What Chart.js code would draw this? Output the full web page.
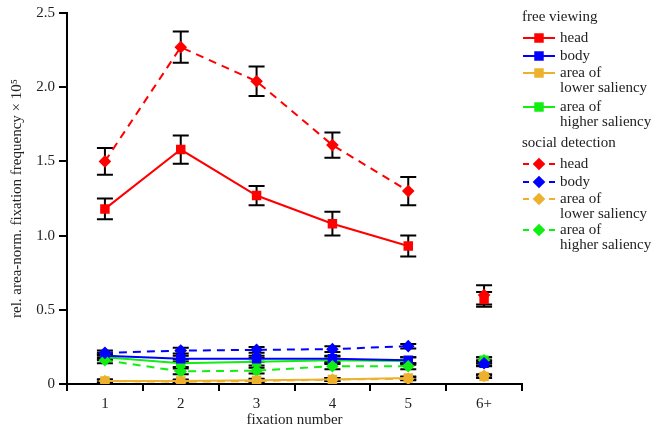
<!DOCTYPE html>
<html>
<head>
<meta charset="utf-8">
<script src="https://cdn.jsdelivr.net/npm/chart.js@4/dist/chart.umd.min.js"></script>
<style>
html,body{margin:0;padding:0;background:#fff;}
#wrap{position:relative;width:651px;height:429px;}
</style>
</head>
<body>
<div id="wrap"><canvas id="c" width="651" height="429"></canvas></div>
<script>
const categories = ['1', '2', '3', '4', '5', '6+'];
const yTicks = [0, 0.5, 1.0, 1.5, 2.0, 2.5];

// free viewing
const fvHead = [1.18, 1.58, 1.27, 1.08, 0.93, 0.57];
const fvHeadErr = [0.07, 0.095, 0.065, 0.08, 0.07, 0.05];
const fvBody = [0.19, 0.17, 0.17, 0.17, 0.16, 0.14];
const fvBodyErr = [0.02, 0.02, 0.02, 0.02, 0.02, 0.02];
const fvLow = [0.02, 0.02, 0.025, 0.03, 0.04, 0.05];
const fvLowErr = [0.01, 0.01, 0.01, 0.01, 0.01, 0.01];
const fvHigh = [0.18, 0.14, 0.15, 0.16, 0.155, 0.16];
const fvHighErr = [0.02, 0.025, 0.025, 0.025, 0.025, 0.02];

// social detection
const sdHead = [1.50, 2.27, 2.04, 1.61, 1.30, 0.60];
const sdHeadErr = [0.09, 0.105, 0.10, 0.085, 0.095, 0.065];
const sdBody = [0.21, 0.225, 0.23, 0.235, 0.255, 0.14];
const sdBodyErr = [0.015, 0.02, 0.02, 0.02, 0.015, 0.015];
const sdLow = [0.02, 0.015, 0.02, 0.03, 0.035, 0.055];
const sdLowErr = [0.01, 0.01, 0.01, 0.01, 0.01, 0.01];
const sdHigh = [0.16, 0.085, 0.09, 0.12, 0.12, 0.16];
const sdHighErr = [0.02, 0.02, 0.02, 0.02, 0.02, 0.02];

const seriesNames = ['head', 'body', 'area of\nlower saliency', 'area of\nhigher saliency'];
const colors = ['#ff0000', '#0000ff', '#edb12e', '#11ee11'];

const FONT = "'Liberation Serif', 'Times New Roman', serif";
const FS = 15;
const TXT = '#222';

function mk(label, data, errs, color, dashed, order) {
  return {
    label: label,
    data: data,
    errors: errs,
    borderColor: color,
    backgroundColor: color,
    pointBackgroundColor: color,
    pointBorderColor: color,
    pointBorderWidth: 0,
    borderWidth: 2,
    borderDash: dashed ? [8, 6] : [],
    pointStyle: dashed ? 'rectRot' : 'rect',
    pointRadius: dashed ? 6.3 : 6.7,
    pointHoverRadius: dashed ? 6.3 : 6.7,
    tension: 0,
    fill: false,
    order: order,
    segment: {
      borderColor: ctx => ctx.p1DataIndex === 5 ? 'rgba(0,0,0,0)' : undefined
    }
  };
}

const datasets = [
  mk('free viewing head', fvHead, fvHeadErr, colors[0], false, 1),
  mk('free viewing body', fvBody, fvBodyErr, colors[1], false, 1),
  mk('free viewing area of lower saliency', fvLow, fvLowErr, colors[2], false, 1),
  mk('free viewing area of higher saliency', fvHigh, fvHighErr, colors[3], false, 1),
  mk('social detection head', sdHead, sdHeadErr, colors[0], true, 0),
  mk('social detection body', sdBody, sdBodyErr, colors[1], true, 0),
  mk('social detection area of lower saliency', sdLow, sdLowErr, colors[2], true, 0),
  mk('social detection area of higher saliency', sdHigh, sdHighErr, colors[3], true, 0)
];

const errorBars = {
  id: 'errorBars',
  beforeDatasetsDraw(chart) {
    const ctx = chart.ctx;
    const y = chart.scales.y;
    ctx.save();
    ctx.strokeStyle = '#000';
    ctx.lineWidth = 2;
    chart.data.datasets.forEach((ds, di) => {
      const meta = chart.getDatasetMeta(di);
      meta.data.forEach((pt, i) => {
        const v = ds.data[i];
        const e = ds.errors[i];
        if (v == null || e == null) return;
        const x = pt.x;
        const yt = y.getPixelForValue(v + e);
        const yb = y.getPixelForValue(v - e);
        ctx.beginPath();
        ctx.moveTo(x, yt); ctx.lineTo(x, yb);
        ctx.moveTo(x - 8, yt); ctx.lineTo(x + 8, yt);
        ctx.moveTo(x - 8, yb); ctx.lineTo(x + 8, yb);
        ctx.stroke();
      });
    });
    ctx.restore();
  }
};

const customLegend = {
  id: 'customLegend',
  afterDraw(chart) {
    const ctx = chart.ctx;
    ctx.save();
    ctx.font = FS + 'px ' + FONT;
    ctx.fillStyle = TXT;
    ctx.textBaseline = 'middle';
    ctx.textAlign = 'left';
    const groups = [
      {title: 'free viewing', ty: 17, rows: [38, 56, 73, 107], dashed: false, start: 0},
      {title: 'social detection', ty: 143, rows: [164, 182, 199, 230], dashed: true, start: 4}
    ];
    const x0 = 523, x1 = 555, xm = 539, tx = 560;
    groups.forEach(g => {
      ctx.fillStyle = TXT;
      ctx.fillText(g.title, 522, g.ty);
      g.rows.forEach((ry, k) => {
        const ds = chart.data.datasets[g.start + k];
        const col = ds.borderColor;
        ctx.strokeStyle = col;
        ctx.fillStyle = col;
        ctx.lineWidth = 2;
        ctx.beginPath();
        if (g.dashed) {
          ctx.moveTo(x0, ry); ctx.lineTo(x0 + 6, ry);
          ctx.moveTo(x1 - 6, ry); ctx.lineTo(x1, ry);
        } else {
          ctx.moveTo(x0, ry); ctx.lineTo(x1, ry);
        }
        ctx.stroke();
        Chart.helpers.drawPoint(ctx, {pointStyle: ds.pointStyle, radius: ds.pointRadius, borderWidth: 0}, xm, ry);
        ctx.fillStyle = TXT;
        const lines = seriesNames[k].split('\n');
        lines.forEach((ln, j) => ctx.fillText(ln, tx, ry + j * 15));
      });
    });
    ctx.restore();
  }
};

new Chart(document.getElementById('c'), {
  type: 'line',
  data: { labels: categories, datasets: datasets },
  plugins: [errorBars, customLegend],
  options: {
    responsive: false,
    animation: false,
    devicePixelRatio: 1,
    layout: { padding: { top: 8, right: 129, bottom: 0, left: 0 } },
    plugins: { legend: { display: false }, tooltip: { enabled: false } },
    scales: {
      x: {
        type: 'category',
        offset: true,
        border: { display: true, color: '#000', width: 2 },
        grid: { offset: true, drawOnChartArea: false, drawTicks: true, tickLength: 7, color: '#000', lineWidth: 2 },
        ticks: { color: TXT, font: { family: FONT, size: FS }, padding: 4 },
        title: { display: true, text: 'fixation number', color: TXT, font: { family: FONT, size: FS }, padding: { top: 0, bottom: 0 } },
        afterFit(scale) { scale.height = 45; }
      },
      y: {
        min: 0,
        max: 2.5,
        afterBuildTicks(scale) { scale.ticks = yTicks.map(v => ({ value: v })); },
        border: { display: true, color: '#000', width: 2 },
        grid: { drawOnChartArea: false, drawTicks: true, tickLength: 8, color: '#000', lineWidth: 2 },
        ticks: {
          color: TXT, font: { family: FONT, size: FS }, padding: 4,
          callback: v => v === 0 ? '0' : v.toFixed(1)
        },
        title: { display: true, text: 'rel. area-norm. fixation frequency × 10⁵', color: TXT, font: { family: FONT, size: FS }, padding: { top: 8, bottom: 2 } },
        afterFit(scale) { scale.width = 67; }
      }
    }
  }
});
</script>
</body>
</html>
